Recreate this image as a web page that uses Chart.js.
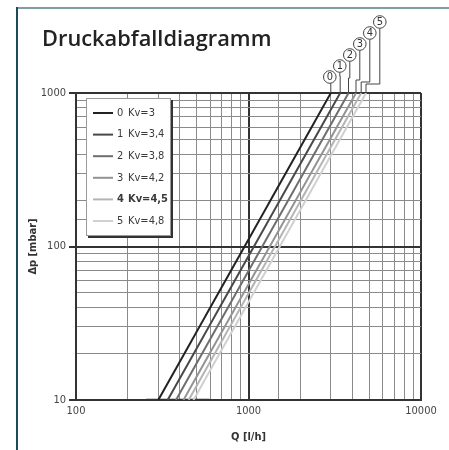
<!DOCTYPE html>
<html>
<head>
<meta charset="utf-8">
<script src="https://cdn.jsdelivr.net/npm/chart.js@4"></script>
<style>
  html, body { margin: 0; padding: 0; background: #fff; }
  #wrap { position: relative; width: 449px; height: 450px; overflow: hidden; }
  #frameTop { position: absolute; left: 17px; top: 7px; width: 432px; height: 2px; background: #7f9ea4; }
  #frameLeft { position: absolute; left: 16px; top: 7px; width: 2px; height: 443px; background: #1d4b5c; }
  #title { position: absolute; left: 42px; top: 27px; font: 600 21.8px/21px "Open Sans", sans-serif; color: #222; }
  #chart { position: absolute; left: 0; top: 0; }
</style>
</head>
<body>
<div id="wrap">
  <canvas id="chart" width="449" height="450"></canvas>
  <div id="frameTop"></div>
  <div id="frameLeft"></div>
  <div id="title">Druckabfalldiagramm</div>
</div>
<script>
// Kv curves: flow Q [l/h] at 10 mbar and at 1000 mbar
const seriesIds = ["0", "1", "2", "3", "4", "5"];
const kvValues = [3, 3.4, 3.8, 4.2, 4.5, 4.8];
const qAt10 = [300, 340, 380, 420, 450, 480];
const qAt1000 = [3000, 3400, 3800, 4200, 4500, 4800];
const dpEnds = [10, 1000];
// short base line along 10 mbar
const baseQ = [255, 595];
const xTickLabels = [100, 1000, 10000];
const yTickLabels = [10, 100, 1000];

const lineColors = ["#222", "#484848", "#6e6e6e", "#939393", "#b4b4b4", "#d0d0d0"];
const narrow = "'Liberation Sans Narrow', 'DejaVu Sans Condensed', sans-serif";

let datasets = seriesIds.map((id, i) => ({
  label: id + "  Kv=" + String(kvValues[i]).replace(".", ","),
  data: [{ x: qAt10[i], y: dpEnds[0] }, { x: qAt1000[i], y: dpEnds[1] }],
  borderColor: lineColors[i],
  borderWidth: 2,
  pointRadius: 0,
  showLine: true,
  fill: false
}));
datasets.push({
  label: "",
  data: baseQ.map(q => ({ x: q, y: dpEnds[0] })),
  borderColor: "#333",
  borderWidth: 2.5,
  pointRadius: 0,
  showLine: true
});

// legend box with shadow, drawn inside the plot area
const legendBox = {
  id: "legendBox",
  afterDatasetsDraw(chart) {
    let ctx = chart.ctx;
    let area = chart.chartArea;
    let bx = area.left + 10, by = area.top + 5, bw = 85, bh = 138;
    ctx.save();
    ctx.fillStyle = "#333";
    ctx.fillRect(bx + 2, by + 2, bw, bh);
    ctx.fillStyle = "#fff";
    ctx.fillRect(bx, by, bw, bh);
    ctx.strokeStyle = "#999";
    ctx.lineWidth = 1;
    ctx.strokeRect(bx + 0.5, by + 0.5, bw - 1, bh - 1);
    ctx.textBaseline = "middle";
    seriesIds.forEach((id, i) => {
      let y = by + 15 + i * 21.6;
      ctx.strokeStyle = lineColors[i];
      ctx.lineWidth = 2;
      ctx.beginPath();
      ctx.moveTo(bx + 7, y);
      ctx.lineTo(bx + 27, y);
      ctx.stroke();
      ctx.fillStyle = "#3a3a3a";
      ctx.font = (i === 4 ? "bold " : "") + "11px " + narrow;
      ctx.fillText(id, bx + 31, y);
      ctx.fillText("Kv=" + String(kvValues[i]).replace(".", ","), bx + 42, y);
    });
    ctx.restore();
  }
};

// numbered circles with leader lines above the curve ends
const curveMarkers = {
  id: "curveMarkers",
  afterDraw(chart) {
    let ctx = chart.ctx;
    let xs = chart.scales.x, ys = chart.scales.y;
    let yTop = ys.getPixelForValue(dpEnds[1]);
    let x0 = xs.getPixelForValue(qAt1000[0]) - 1;
    let r = 6.3;
    ctx.save();
    ctx.strokeStyle = "#444";
    ctx.lineWidth = 1;
    ctx.textAlign = "center";
    ctx.textBaseline = "middle";
    ctx.font = "11px " + narrow;
    seriesIds.forEach((id, i) => {
      let xEnd = xs.getPixelForValue(qAt1000[i]);
      let cx = x0 + 10 * i;
      let cy = yTop - 16 - 11 * i;
      let jogY = Math.max(yTop - 19 + 2 * i, cy + r);
      ctx.beginPath();
      ctx.moveTo(xEnd, yTop);
      ctx.lineTo(xEnd, jogY);
      ctx.lineTo(cx, jogY);
      ctx.lineTo(cx, cy + r);
      ctx.stroke();
      ctx.beginPath();
      ctx.arc(cx, cy, r, 0, Math.PI * 2);
      ctx.fillStyle = "#fff";
      ctx.fill();
      ctx.stroke();
      ctx.fillStyle = "#333";
      ctx.fillText(id, cx, cy + 0.5);
    });
    ctx.restore();
  }
};

function isDecade(v, list) {
  return list.includes(Math.round(v));
}

new Chart(document.getElementById("chart"), {
  type: "scatter",
  data: { datasets: datasets },
  options: {
    responsive: false,
    animation: false,
    layout: { padding: { left: 23, right: 28, top: 93, bottom: 2 } },
    plugins: { legend: { display: false }, tooltip: { enabled: false } },
    scales: {
      x: {
        type: "logarithmic",
        min: 100,
        max: 10000,
        afterFit: s => { s.height = 48; },
        border: { color: "#333", width: 2 },
        grid: {
          drawTicks: false,
          color: c => isDecade(c.tick.value, xTickLabels) ? "#333" : "#8a8a8a",
          lineWidth: c => isDecade(c.tick.value, xTickLabels) ? 2 : 1
        },
        ticks: {
          autoSkip: false,
          maxRotation: 0,
          padding: 5,
          color: "#444",
          font: { family: narrow, size: 11 },
          callback: v => isDecade(v, xTickLabels) ? String(v) : ""
        },
        title: {
          display: true,
          text: "Q [l/h]",
          color: "#333",
          font: { family: narrow, size: 11, weight: "bold" },
          padding: { top: 4, bottom: 4 }
        }
      },
      y: {
        type: "logarithmic",
        min: 10,
        max: 1000,
        afterFit: s => { s.width = 53; },
        border: { color: "#333", width: 2 },
        grid: {
          tickLength: 7,
          tickColor: c => isDecade(c.tick.value, yTickLabels) ? "#333" : "rgba(0,0,0,0)",
          color: c => isDecade(c.tick.value, yTickLabels) ? "#333" : "#8a8a8a",
          lineWidth: c => isDecade(c.tick.value, yTickLabels) ? 2 : 1
        },
        ticks: {
          autoSkip: false,
          padding: 3,
          color: "#444",
          font: { family: narrow, size: 11 },
          callback: v => isDecade(v, yTickLabels) ? String(v) : ""
        },
        title: {
          display: true,
          text: "Δp [mbar]",
          color: "#333",
          font: { family: narrow, size: 11, weight: "bold" },
          padding: { top: 4, bottom: 4 }
        }
      }
    }
  },
  plugins: [legendBox, curveMarkers]
});
</script>
</body>
</html>
